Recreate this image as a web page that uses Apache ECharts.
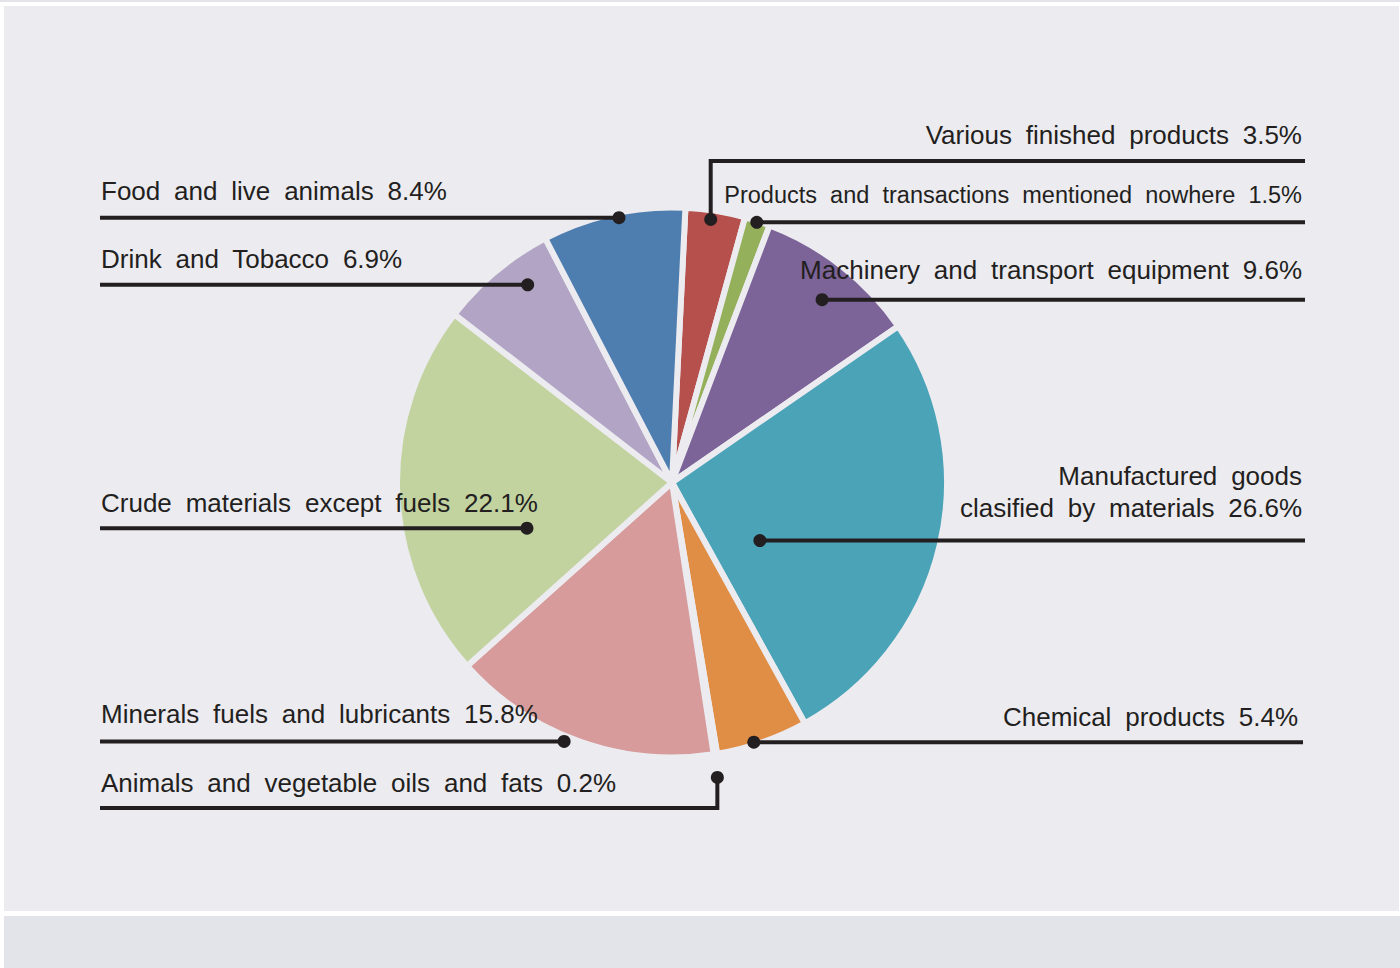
<!DOCTYPE html>
<html><head><meta charset="utf-8">
<script src="https://cdn.jsdelivr.net/npm/echarts@6/dist/echarts.min.js"></script>
<style>
html,body{margin:0;padding:0;background:#ffffff;width:1400px;height:968px;overflow:hidden}
#bgTop{position:absolute;left:0;top:0;width:1400px;height:2px;background:#e3e4e9}
#bg1{position:absolute;left:4px;top:6px;width:1395px;height:905px;background:#ecebf0}
#bg2{position:absolute;left:4px;top:916px;width:1396px;height:52px;background:#e3e4e9}
#chart{position:absolute;left:0;top:0;width:1400px;height:968px;word-spacing:6.6px}
</style></head><body>
<div id="bgTop"></div><div id="bg1"></div><div id="bg2"></div><div id="chart"></div>
<script>
// ---- data ----
const categories = [
  'Various finished products',
  'Products and transactions mentioned nowhere',
  'Machinery and transport equipment',
  'Manufactured goods\nclasified by materials',
  'Chemical products',
  'Animals and vegetable oils and fats',
  'Minerals fuels and lubricants',
  'Crude materials except fuels',
  'Drink and Tobacco',
  'Food and live animals'
];
const values = [3.5, 1.5, 9.6, 26.6, 5.4, 0.2, 15.8, 22.1, 6.9, 8.4];
const colors = ['#b5504c', '#94b05a', '#7c6398', '#4ba3b8', '#e08e45', '#1aa3df', '#d69b9a', '#c2d3a0', '#b2a4c4', '#4e7db0'];

// ---- layout (annotation geometry) ----
const CX = 672, CY = 482.5, R = 275, START = 87.2;
const TEXT = '#231f20';
const BG = '#ecebf0';
// t: position across the slice (0..1), rf: fraction of radius for the anchor dot
const anchors = [
  {t: 0.442, rf: 0.967, side: 'right', lineY: 161, endX: 1305, textX: 1302, textDy: -26, font: 26},
  {t: 0.49,  rf: 0.995, side: 'right', endX: 1305, textX: 1302, textDy: -27, font: 23.5},
  {t: 0.538, rf: 0.86,  side: 'right', endX: 1305, textX: 1302, textDy: -30, font: 26},
  {t: 0.711, rf: 0.383, side: 'right', endX: 1305, textX: 1302, textDy: -49, font: 26},
  {t: 0.586, rf: 0.99,  side: 'right', endX: 1303, textX: 1298, textDy: -25, font: 26},
  {t: 0.97,  rf: 1.085, side: 'left',  lineY: 808, endX: 100, textX: 101, textDy: -25, font: 26},
  {t: 0.551, rf: 1.02,  side: 'left',  endX: 100, textX: 101, textDy: -27, font: 26},
  {t: 0.306, rf: 0.553, side: 'left',  endX: 100, textX: 101, textDy: -25, font: 26},
  {t: 0.65,  rf: 0.89,  side: 'left',  endX: 100, textX: 101, textDy: -26, font: 26},
  {t: 0.533, rf: 0.982, side: 'left',  endX: 100, textX: 101, textDy: -27, font: 26}
];

const total = values.reduce((a, b) => a + b, 0);
let cum = 0;
const dots = values.map((v, i) => {
  const a0 = (90 - START) + cum / total * 360;
  const a1 = a0 + v / total * 360;
  cum += v;
  const th = (a0 + anchors[i].t * (a1 - a0)) * Math.PI / 180;
  const r = R * anchors[i].rf;
  return [CX + r * Math.sin(th), CY - r * Math.cos(th)];
});
const linePts = dots.map((d, i) => {
  const a = anchors[i];
  if (a.lineY !== undefined) {
    return [[d[0], d[1]], [d[0], a.lineY], [a.endX, a.lineY]];
  }
  return [[d[0], d[1]], [a.endX, d[1]]];
});
const lineYs = dots.map((d, i) => anchors[i].lineY !== undefined ? anchors[i].lineY : d[1]);

const chart = echarts.init(document.getElementById('chart'), null, {renderer: 'svg'});
chart.setOption({
  animation: false,
  series: [{
    type: 'pie',
    center: [CX, CY],
    radius: R,
    startAngle: START,
    clockwise: true,
    avoidLabelOverlap: false,
    emphasis: {disabled: true},
    itemStyle: {borderColor: BG, borderWidth: 6},
    label: {
      show: true,
      position: 'outside',
      color: TEXT,
      fontFamily: 'Liberation Sans, Arial, sans-serif',
      fontSize: 26,
      lineHeight: 32,
      textBorderWidth: 0,
      formatter: p => p.name + ' ' + p.value + '%'
    },
    labelLine: {show: false},
    labelLayout: params => {
      const i = params.dataIndex;
      const a = anchors[i];
      return {
        x: a.textX,
        y: lineYs[i] + a.textDy,
        align: a.side === 'right' ? 'right' : 'left',
        verticalAlign: 'middle'
      };
    },
    data: categories.map((c, i) => ({
      name: c,
      value: values[i],
      itemStyle: {color: colors[i]},
      label: {fontSize: anchors[i].font}
    }))
  }],
  graphic: [].concat(
    linePts.map(pts => ({
      type: 'polyline',
      z: 90,
      shape: {points: pts},
      style: {stroke: TEXT, lineWidth: 4, fill: null, lineJoin: 'miter'}
    })),
    dots.map(d => ({
      type: 'circle',
      z: 100,
      shape: {cx: d[0], cy: d[1], r: 6.5},
      style: {fill: TEXT}
    }))
  )
});
</script>
</body></html>
